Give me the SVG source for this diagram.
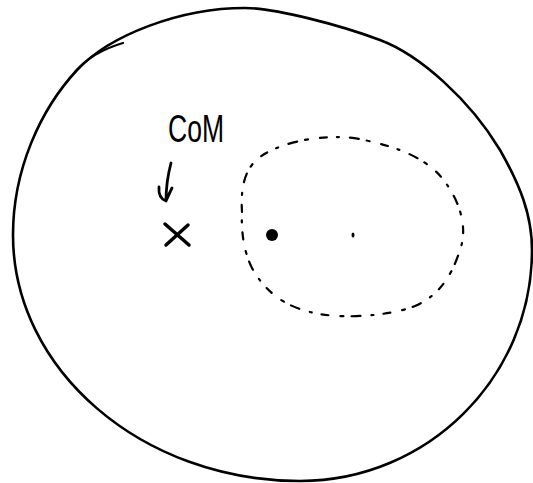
<svg xmlns="http://www.w3.org/2000/svg" width="533" height="483" viewBox="0 0 533 483">
<style>
.ink{fill:none;stroke:#000;stroke-linecap:round;stroke-linejoin:round}
.outer{stroke-width:2.6}
.dash{stroke-width:2.2;stroke-dasharray:7 10 2 11 9 8 3 12}
.lbl{font-family:"Liberation Sans","DejaVu Sans",sans-serif;fill:#000}
</style>
<rect width="533" height="483" fill="#fff"/>
<g id="body">
<path class="ink outer" d="M13,235 C13,170 40,110 77,70 C110,35 180,8 245,8 C275,8 340,25 380,40 C420,55 470,100 500,150 C520,185 532,215 532,250 C532,377 428,481 300,481 C142,481 13,370 13,235 Z"/>
<path class="ink" stroke-width="2.2" d="M75,72 Q92,52 123,43"/>
</g>
<g id="region">
<path class="ink dash" d="M242,212 C240,180 248,162 268,152 C295,138 340,132 372,142 C400,148 430,160 445,182 C460,202 468,228 460,250 C452,275 440,295 415,306 C390,316 340,320 310,312 C285,306 265,292 252,268 C244,252 241,232 242,212 Z"/>
</g>
<g id="dot">
<circle cx="272" cy="235" r="6" fill="#000"/>
</g>
<g id="center">
<ellipse cx="353" cy="235" rx="1.5" ry="2.5" fill="#000"/>
</g>
<g id="com">
<path class="ink" stroke-width="3.5" d="M165,224 L189,245 M188,225 L166,245"/>
<text class="lbl" x="168" y="142" font-size="38" textLength="56" lengthAdjust="spacingAndGlyphs">CoM</text>
</g>
<g id="connectors">
<path class="ink" stroke-width="2.8" d="M171,163 Q166,182 166,201 M159,187 Q158,198 166,201 Q170,192 172,188"/>
</g>
</svg>
